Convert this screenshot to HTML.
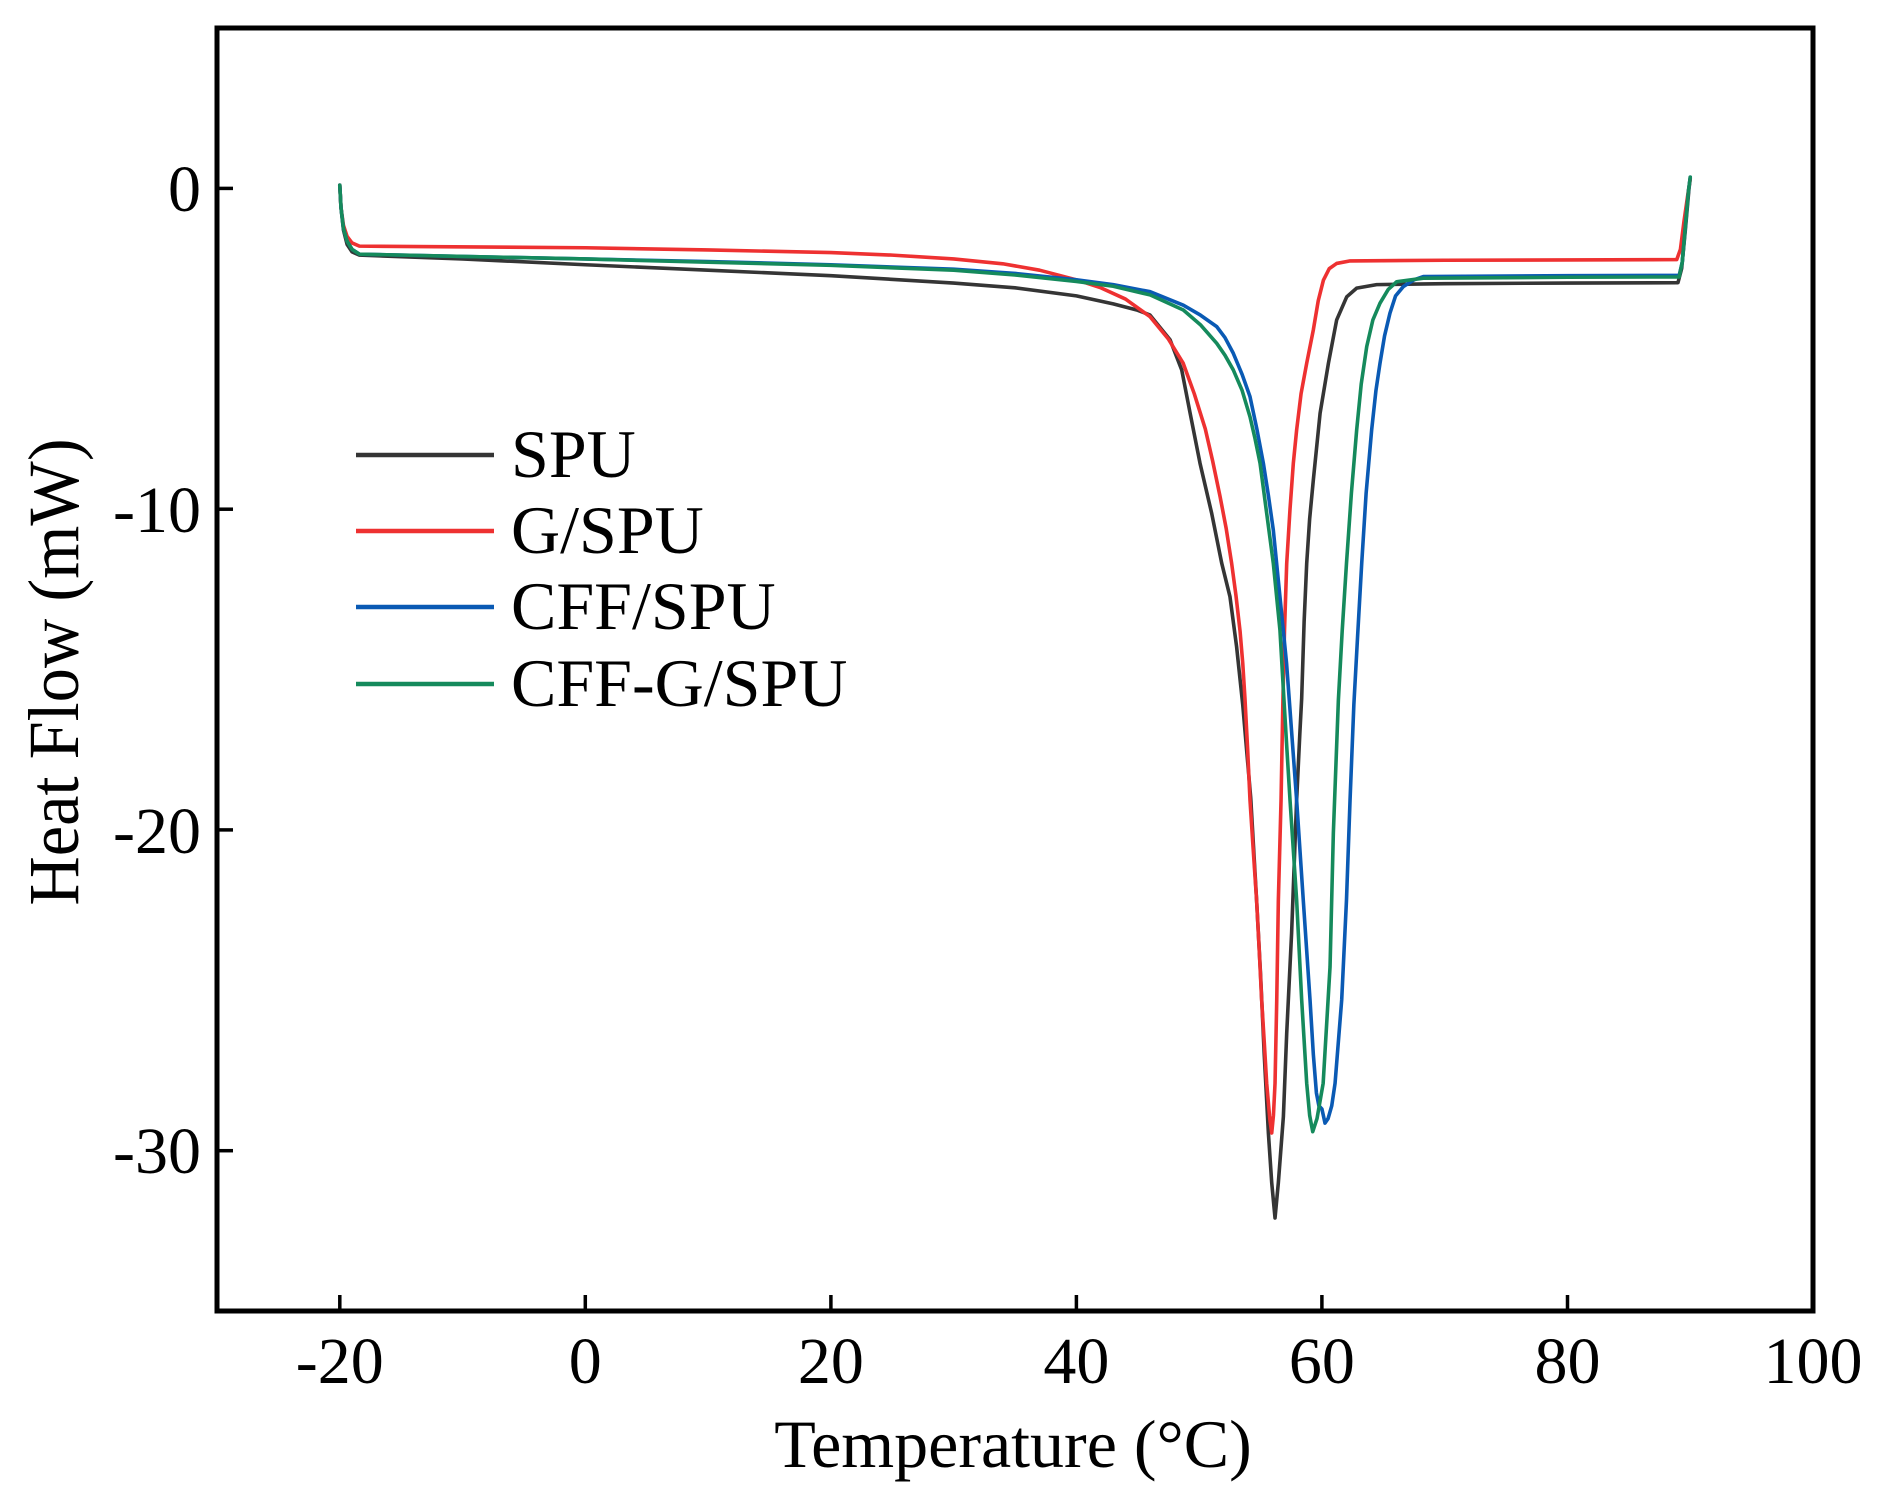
<!DOCTYPE html>
<html>
<head>
<meta charset="utf-8">
<style>
  html, body { margin: 0; padding: 0; background: #fff; }
  svg { display: block; }
  text { font-family: "Liberation Serif", "Times New Roman", serif; fill: #000; }
  .c { fill: none; stroke-width: 3.6; stroke-linejoin: round; stroke-linecap: round; vector-effect: non-scaling-stroke; }
</style>
</head>
<body>
<svg width="1888" height="1511" viewBox="0 0 1888 1511" xmlns="http://www.w3.org/2000/svg">
  <rect x="0" y="0" width="1888" height="1511" fill="#fff"/>

  <!-- curves: data coords mapped to pixels -->
  <g transform="matrix(12.277 0 0 -32.075 585.31 188.4)">
    <!-- SPU (black) -->
    <polyline class="c" stroke="#353535" points="-20,0.1 -19.9,-0.6 -19.7,-1.3 -19.4,-1.75 -19,-1.98 -18.4,-2.08 -10,-2.2 0,-2.38 10,-2.55 20,-2.72 30,-2.95 35,-3.1 40,-3.35 43,-3.6 45,-3.8 46,-3.95 47.63,-4.72 48.58,-5.66 49.26,-7.0 50.07,-8.57 51.02,-10.13 51.84,-11.69 52.51,-12.73 53.05,-14.29 53.55,-16.1 54.2,-19 54.68,-22.2 55.0,-24.5 55.3,-27 55.64,-29.46 55.91,-31.0 56.18,-32.1 56.45,-31.0 56.86,-28.94 57.13,-26.35 57.53,-23.22 57.94,-19.07 58.2,-17 58.35,-15.9 58.55,-13.5 58.76,-11.69 59.0,-10.3 59.3,-9.09 59.85,-7.01 60.53,-5.45 61.2,-4.1 62.02,-3.38 62.83,-3.11 64.46,-3.0 70,-2.97 80,-2.95 89.0,-2.94 89.3,-2.5 89.6,-1.3 89.9,0 90,0.3"/>
    <!-- G/SPU (red) -->
    <polyline class="c" stroke="#ee3131" points="-20,0.1 -19.9,-0.6 -19.7,-1.15 -19.4,-1.5 -19,-1.7 -18.4,-1.8 0,-1.85 10,-1.92 20,-2.0 25,-2.08 30,-2.2 34,-2.35 37,-2.55 40,-2.85 42,-3.1 44,-3.45 46,-4.0 47.5,-4.7 48.7,-5.45 49.6,-6.4 50.5,-7.5 51.1,-8.5 51.7,-9.6 52.2,-10.6 52.65,-11.7 53.0,-12.7 53.33,-13.8 53.55,-14.8 53.73,-15.9 53.95,-17.5 54.14,-19.07 54.4,-20.6 54.68,-22.2 54.9,-23.8 55.09,-25.3 55.3,-26.6 55.5,-27.9 55.75,-29.0 55.91,-29.45 56.05,-28.9 56.18,-27.9 56.32,-25.3 56.45,-22.2 56.67,-19.07 56.82,-16 56.95,-13.8 57.13,-11.7 57.4,-10.0 57.67,-8.57 57.94,-7.53 58.3,-6.4 58.76,-5.45 59.3,-4.41 59.7,-3.5 60.12,-2.86 60.6,-2.5 61.2,-2.34 62.3,-2.26 70,-2.24 80,-2.23 88.9,-2.22 89.2,-1.9 89.5,-1.0 89.8,-0.2 90,0.3"/>
    <!-- CFF/SPU (blue) -->
    <polyline class="c" stroke="#0a5ab4" points="-20,0.1 -19.9,-0.6 -19.7,-1.25 -19.4,-1.65 -19,-1.9 -18.4,-2.05 -10,-2.12 0,-2.2 10,-2.28 20,-2.38 30,-2.52 35,-2.65 40,-2.85 43,-3.0 46,-3.22 48.71,-3.64 50.1,-3.95 51.43,-4.31 52.1,-4.65 52.78,-5.14 53.5,-5.8 54.14,-6.49 54.7,-7.5 55.23,-8.57 55.65,-9.6 56.04,-10.65 56.58,-12.73 57.12,-14.81 57.4,-16.26 57.94,-19.07 58.48,-22.19 59.03,-25.3 59.3,-27.0 59.55,-28.2 59.75,-28.6 60.0,-28.7 60.25,-29.14 60.5,-29.0 60.8,-28.6 61.07,-27.9 61.61,-25.3 62.0,-22.19 62.29,-19.07 62.6,-16.1 62.9,-14.0 63.24,-11.69 63.6,-9.5 64.05,-7.53 64.4,-6.3 64.73,-5.45 65.1,-4.6 65.54,-3.89 66.0,-3.35 66.63,-3.06 67.5,-2.85 68.26,-2.75 80,-2.72 89.1,-2.71 89.35,-2.3 89.6,-1.2 89.85,-0.1 90,0.35"/>
    <!-- CFF-G/SPU (green) -->
    <polyline class="c" stroke="#158a5c" points="-20,0.1 -19.9,-0.6 -19.7,-1.25 -19.4,-1.65 -19,-1.9 -18.4,-2.05 -10,-2.12 0,-2.2 10,-2.3 20,-2.4 30,-2.55 35,-2.7 40,-2.9 43,-3.05 46,-3.32 48.71,-3.79 50.1,-4.25 51.43,-4.83 52.1,-5.2 52.78,-5.66 53.5,-6.3 54.14,-7.12 54.55,-7.8 54.96,-8.57 55.5,-10.13 56.04,-11.69 56.58,-13.77 56.9,-15.9 57.15,-17.5 57.4,-19.07 57.94,-22.19 58.35,-25.3 58.76,-27.9 59.0,-28.9 59.25,-29.41 59.6,-29.0 60.1,-27.9 60.66,-24.27 60.93,-20.1 61.34,-15.95 61.65,-13.8 62.0,-11.69 62.4,-9.5 62.83,-7.53 63.2,-6.1 63.65,-4.93 64.15,-4.1 64.73,-3.58 65.4,-3.15 66.09,-2.91 68.26,-2.8 80,-2.77 89.1,-2.76 89.35,-2.3 89.6,-1.2 89.85,-0.1 90,0.35"/>
  </g>

  <!-- frame -->
  <rect x="217" y="28" width="1596" height="1283" fill="none" stroke="#000" stroke-width="5"/>

  <!-- x ticks -->
  <g stroke="#000" stroke-width="3.5">
    <line x1="339.8" y1="1311" x2="339.8" y2="1295"/>
    <line x1="585.3" y1="1311" x2="585.3" y2="1295"/>
    <line x1="830.9" y1="1311" x2="830.9" y2="1295"/>
    <line x1="1076.4" y1="1311" x2="1076.4" y2="1295"/>
    <line x1="1321.9" y1="1311" x2="1321.9" y2="1295"/>
    <line x1="1567.5" y1="1311" x2="1567.5" y2="1295"/>
    <!-- y ticks -->
    <line x1="217" y1="188.4" x2="233" y2="188.4"/>
    <line x1="217" y1="509.2" x2="233" y2="509.2"/>
    <line x1="217" y1="829.9" x2="233" y2="829.9"/>
    <line x1="217" y1="1150.7" x2="233" y2="1150.7"/>
  </g>

  <!-- x tick labels -->
  <g font-size="66" text-anchor="middle">
    <text x="339.8" y="1383">-20</text>
    <text x="585.3" y="1383">0</text>
    <text x="830.9" y="1383">20</text>
    <text x="1076.4" y="1383">40</text>
    <text x="1321.9" y="1383">60</text>
    <text x="1567.5" y="1383">80</text>
    <text x="1813" y="1383">100</text>
  </g>

  <!-- y tick labels -->
  <g font-size="66" text-anchor="end">
    <text x="201" y="211">0</text>
    <text x="201" y="532">-10</text>
    <text x="201" y="853">-20</text>
    <text x="201" y="1173">-30</text>
  </g>

  <!-- axis titles -->
  <text x="1013" y="1467" font-size="68" text-anchor="middle">Temperature (°C)</text>
  <text transform="translate(78,672) rotate(-90) scale(0.95,1)" font-size="72" text-anchor="middle">Heat Flow (mW)</text>

  <!-- legend -->
  <g stroke-width="4.5">
    <line x1="356" y1="455" x2="494" y2="455" stroke="#353535"/>
    <line x1="356" y1="531" x2="494" y2="531" stroke="#ee3131"/>
    <line x1="356" y1="607" x2="494" y2="607" stroke="#0a5ab4"/>
    <line x1="356" y1="684" x2="494" y2="684" stroke="#158a5c"/>
  </g>
  <g font-size="68">
    <text x="511" y="477">SPU</text>
    <text x="511" y="553">G/SPU</text>
    <text x="511" y="629">CFF/SPU</text>
    <text x="511" y="706">CFF-G/SPU</text>
  </g>
</svg>
</body>
</html>
